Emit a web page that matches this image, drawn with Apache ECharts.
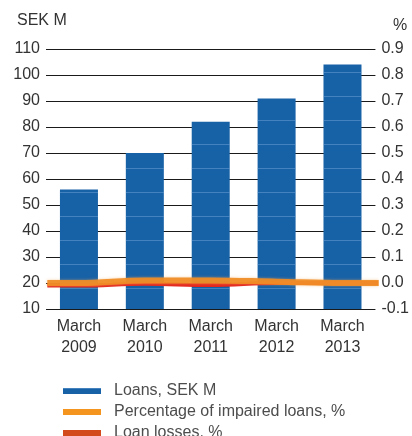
<!DOCTYPE html>
<html>
<head>
<meta charset="utf-8">
<script src="https://cdn.jsdelivr.net/npm/echarts@6/dist/echarts.min.js"></script>
<style>
  html, body { margin: 0; padding: 0; background: #fff; }
  #chart { width: 412px; height: 436px; }
</style>
</head>
<body>
<div id="chart"></div>
<script>
  // data
  const years = ['2009', '2010', '2011', '2012', '2013']
  const loans = [56, 70, 82, 91, 104]
  const impaired = [0.0, 0.01, 0.01, 0.005, 0.0]
  const losses = [-0.01, -0.003, -0.008, 0.0, 0.0]
  const leftTicks = { min: 10, max: 110, interval: 10 }
  const rightTicks = { min: -0.1, max: 0.9, interval: 0.1 }

  const font = '"Liberation Sans", Arial, sans-serif'

  // line series run over the full plot width, so put them on a hidden value axis
  const toLine = (vals) => {
    const pts = vals.map((v, i) => [i, v])
    pts.unshift([-0.48, vals[0]])
    pts.push([vals.length - 0.45, vals[vals.length - 1]])
    return pts
  }

  const chart = echarts.init(document.getElementById('chart'))

  chart.setOption({
    animation: false,
    textStyle: { fontFamily: font },
    grid: { left: 46, right: 32, top: 49, bottom: 127 },
    graphic: [
      { type: 'text', left: 17, top: 13, style: { text: 'SEK M', font: '16px ' + font, fill: '#333' } },
      { type: 'text', left: 393, top: 18, style: { text: '%', font: '16px ' + font, fill: '#333' } }
    ],
    legend: {
      orient: 'vertical',
      left: 58,
      top: 378,
      height: 90,
      itemWidth: 38,
      itemHeight: 6,
      itemGap: 5,
      icon: 'rect',
      textStyle: { fontSize: 16, lineHeight: 16, color: '#4d4d4d', padding: [0, 0, 0, 8], fontFamily: font },
      data: ['Loans, SEK M', 'Percentage of impaired loans, %', 'Loan losses. %']
    },
    xAxis: [
      {
        type: 'category',
        data: years.map(y => 'March\n' + y),
        axisLine: { show: false },
        axisTick: { show: false },
        axisLabel: { color: '#333', fontSize: 16, lineHeight: 21, margin: 7 }
      },
      {
        type: 'value',
        show: false,
        min: -0.5,
        max: years.length - 0.5
      }
    ],
    yAxis: [
      {
        type: 'value',
        min: leftTicks.min,
        max: leftTicks.max,
        interval: leftTicks.interval,
        axisLine: { show: false },
        axisTick: { show: false },
        axisLabel: { color: '#333', fontSize: 16, margin: 6 },
        splitLine: { lineStyle: { color: '#1a1a1a', width: 1 } }
      },
      {
        type: 'value',
        min: rightTicks.min,
        max: rightTicks.max,
        interval: rightTicks.interval,
        axisLine: { show: false },
        axisTick: { show: false },
        splitLine: { show: false },
        axisLabel: {
          color: '#333', fontSize: 16, margin: 6,
          formatter: v => (Math.abs(v) < 1e-9 ? 0 : v).toFixed(1)
        }
      }
    ],
    series: [
      {
        name: 'Loans, SEK M',
        type: 'bar',
        data: loans,
        barWidth: 38,
        itemStyle: {
          color: '#1761a6',
          decal: {
            symbol: 'rect',
            color: 'rgba(120,170,220,0.45)',
            dashArrayX: [1, 0],
            dashArrayY: [1, 22.5],
            rotation: 0
          }
        }
      },
      {
        name: 'Percentage of impaired loans, %',
        type: 'line',
        xAxisIndex: 1,
        yAxisIndex: 1,
        data: toLine(impaired),
        smooth: 0.4,
        showSymbol: false,
        clip: false,
        z: 4,
        itemStyle: { color: '#f3951f' },
        lineStyle: { color: 'rgba(240,140,37,0.92)', width: 6, shadowColor: 'rgba(245,170,90,0.6)', shadowBlur: 3 }
      },
      {
        name: 'Loan losses. %',
        type: 'line',
        xAxisIndex: 1,
        yAxisIndex: 1,
        data: toLine(losses),
        smooth: 0.4,
        showSymbol: false,
        clip: false,
        z: 3,
        itemStyle: { color: '#d34b1c' },
        lineStyle: { color: '#e3261e', width: 4 }
      }
    ]
  })
</script>
</body>
</html>
